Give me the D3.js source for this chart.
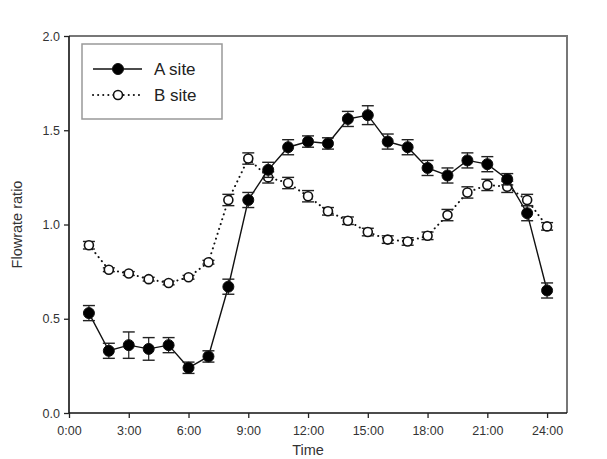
<!DOCTYPE html>
<html>
<head>
<meta charset="utf-8">
<script src="https://cdn.jsdelivr.net/npm/d3@7"></script>
<style>
  body { margin: 0; background: #fff; }
  text { font-family: "Liberation Sans", Arial, sans-serif; }
</style>
</head>
<body>
<div id="chart"></div>
<script>
// hours 1..24
var hours = d3.range(1, 25)
var siteA = [0.53, 0.33, 0.36, 0.34, 0.36, 0.24, 0.30, 0.67, 1.13, 1.29, 1.41, 1.44,
             1.43, 1.56, 1.58, 1.44, 1.41, 1.30, 1.26, 1.34, 1.32, 1.24, 1.06, 0.65]
var errA  = [0.04, 0.04, 0.07, 0.06, 0.04, 0.03, 0.03, 0.04, 0.04, 0.04, 0.04, 0.03,
             0.03, 0.04, 0.05, 0.04, 0.04, 0.04, 0.04, 0.04, 0.04, 0.03, 0.04, 0.04]
var siteB = [0.89, 0.76, 0.74, 0.71, 0.69, 0.72, 0.80, 1.13, 1.35, 1.25, 1.22, 1.15,
             1.07, 1.02, 0.96, 0.92, 0.91, 0.94, 1.05, 1.17, 1.21, 1.20, 1.13, 0.99]
var errB  = [0.02, 0.01, 0.01, 0.01, 0.01, 0.01, 0.01, 0.03, 0.03, 0.03, 0.03, 0.03,
             0.02, 0.02, 0.02, 0.02, 0.02, 0.02, 0.03, 0.03, 0.03, 0.03, 0.03, 0.02]
var xTicks = [0, 3, 6, 9, 12, 15, 18, 21, 24]
var yTicks = [0, 0.5, 1.0, 1.5, 2.0]

var width = 607
var height = 459
// plot box edges (note: "top" is reserved on window, so use p* names)
var pLeft = 69, pRight = 567, pTop = 36, pBottom = 413

var svg = d3.select("#chart").append("svg")
  .attr("width", width)
  .attr("height", height)

var x = d3.scaleLinear().domain([0, 25]).range([pLeft, pRight])
var y = d3.scaleLinear().domain([0, 2]).range([pBottom, pTop])

// frame: top and right are grey
svg.append("path")
  .attr("d", "M" + pLeft + "," + pTop + "H" + pRight + "V" + pBottom)
  .attr("fill", "none")
  .attr("stroke", "#777")
  .attr("stroke-width", 2)

// axes
var xAxis = svg.append("g")
  .attr("transform", "translate(0," + pBottom + ")")
  .call(d3.axisBottom(x).tickValues(xTicks).tickSize(5).tickPadding(8)
    .tickFormat(function(d) { return d + ":00"; }))
var yAxis = svg.append("g")
  .attr("transform", "translate(" + pLeft + ",0)")
  .call(d3.axisLeft(y).tickValues(yTicks).tickSize(5).tickPadding(4)
    .tickFormat(d3.format(".1f")))

xAxis.select(".domain").attr("d", "M" + pLeft + ",0H" + pRight)
yAxis.select(".domain").attr("d", "M0," + pBottom + "V" + pTop)
svg.selectAll(".domain").attr("stroke", "#111").attr("stroke-width", 1.6)
svg.selectAll(".tick line").attr("stroke", "#222").attr("stroke-width", 1.3)
svg.selectAll(".tick text").style("font-size", "12.5px").attr("fill", "#333")

// axis titles
svg.append("text")
  .attr("x", x(12)).attr("y", 455)
  .attr("text-anchor", "middle")
  .style("font-size", "14.5px").attr("fill", "#333")
  .text("Time")
svg.append("text")
  .attr("transform", "translate(22," + ((pTop + pBottom) / 2) + ") rotate(-90)")
  .attr("text-anchor", "middle")
  .style("font-size", "14.5px").attr("fill", "#333")
  .text("Flowrate ratio")

function drawSeries(vals, errs, dashed, filled) {
  var pts = hours.map(function(h, i) { return {h: h, v: vals[i], e: errs[i]}; })
  var line = d3.line().x(function(d) { return x(d.h); }).y(function(d) { return y(d.v); })
  svg.append("path")
    .datum(pts)
    .attr("d", line)
    .attr("fill", "none")
    .attr("stroke", "#111")
    .attr("stroke-width", dashed ? 2 : 1.4)
    .attr("stroke-dasharray", dashed ? "0.1,5" : null)
    .attr("stroke-linecap", dashed ? "round" : "butt")

  var eb = svg.append("g").selectAll("g").data(pts).enter().append("g")
  eb.append("line")
    .attr("x1", function(d) { return x(d.h); }).attr("x2", function(d) { return x(d.h); })
    .attr("y1", function(d) { return y(d.v - d.e); }).attr("y2", function(d) { return y(d.v + d.e); })
    .attr("stroke", "#222").attr("stroke-width", 1.2)
  eb.append("line")
    .attr("x1", function(d) { return x(d.h) - 6; }).attr("x2", function(d) { return x(d.h) + 6; })
    .attr("y1", function(d) { return y(d.v + d.e); }).attr("y2", function(d) { return y(d.v + d.e); })
    .attr("stroke", "#222").attr("stroke-width", 1.4)
  eb.append("line")
    .attr("x1", function(d) { return x(d.h) - 6; }).attr("x2", function(d) { return x(d.h) + 6; })
    .attr("y1", function(d) { return y(d.v - d.e); }).attr("y2", function(d) { return y(d.v - d.e); })
    .attr("stroke", "#222").attr("stroke-width", 1.4)

  svg.append("g").selectAll("circle").data(pts).enter().append("circle")
    .attr("cx", function(d) { return x(d.h); })
    .attr("cy", function(d) { return y(d.v); })
    .attr("r", filled ? 5.5 : 4.5)
    .attr("fill", filled ? "#000" : "#fff")
    .attr("stroke", "#111")
    .attr("stroke-width", filled ? 1 : 1.6)
}

drawSeries(siteB, errB, true, false)
drawSeries(siteA, errA, false, true)

// legend
var lg = svg.append("g")
lg.append("rect")
  .attr("x", 82).attr("y", 44).attr("width", 140).attr("height", 75)
  .attr("fill", "#fff").attr("stroke", "#999").attr("stroke-width", 1.5)
var legendItems = [{name: "A site", filled: true, dashed: false, yy: 69},
                   {name: "B site", filled: false, dashed: true, yy: 95}]
legendItems.forEach(function(it) {
  lg.append("line")
    .attr("x1", 93).attr("x2", 142).attr("y1", it.yy).attr("y2", it.yy)
    .attr("stroke", "#111").attr("stroke-width", it.dashed ? 2 : 1.4)
    .attr("stroke-dasharray", it.dashed ? "0.1,5" : null)
    .attr("stroke-linecap", it.dashed ? "round" : "butt")
  lg.append("circle")
    .attr("cx", 118).attr("cy", it.yy).attr("r", it.filled ? 5.5 : 4.5)
    .attr("fill", it.filled ? "#000" : "#fff")
    .attr("stroke", "#111").attr("stroke-width", it.filled ? 1 : 1.6)
  lg.append("text")
    .attr("x", 154).attr("y", it.yy + 6)
    .style("font-size", "17px").attr("fill", "#222")
    .text(it.name)
})
</script>
</body>
</html>
